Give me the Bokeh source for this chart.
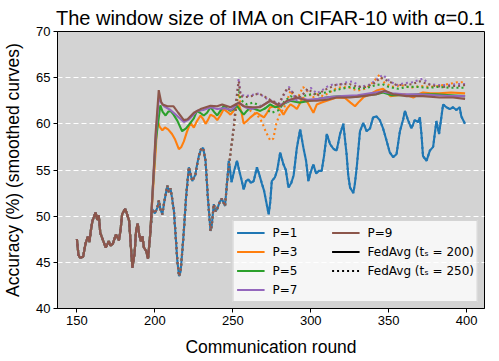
from bokeh.plotting import figure
from bokeh.models import Range1d, Legend, LegendItem, FixedTicker
from bokeh.embed import file_html
from bokeh.resources import INLINE

# ---------------- data ----------------
fedavg_round = [150, 151, 152, 154, 155.5, 157, 158, 159, 160, 162, 163, 164, 165, 166.5, 168.5,
                170.5, 171.5, 173, 175, 177, 178, 179, 181, 182, 183.5, 184.5, 185.6, 187, 188, 189,
                190, 191, 192, 193, 194.5, 195.6, 197, 198.4, 200, 201.6, 202.6, 203.5, 204.8, 206,
                208, 209, 210, 211, 212.2, 213.5, 214.4, 215.5, 216.5, 217.5, 218.6, 220, 221.8, 223,
                224, 226, 227, 228.2, 229.5, 231, 232.5, 234, 235.7, 236.5, 237.8, 239, 240, 241.5,
                243, 244, 245, 246.4, 247.4, 248.2, 249.2, 251, 252.7, 254, 255.5, 257, 258.5, 260,
                261.5, 263.4, 265.5, 267, 268.7, 270, 271.5, 273, 274, 275, 277, 278.5, 280.4, 282.5,
                284, 285.7, 287.5, 289, 291, 293.2, 295.3, 297, 298.5, 300, 301.7, 303.5, 305, 307,
                308.5, 310.3, 312.4, 314.5, 316.6, 318.8, 320.9, 323, 324, 325.2, 327.3, 328.3, 329.5,
                331.6, 333.7, 335.8, 338, 340, 342.2, 344.3, 346.4, 348.6, 350.7, 352.8, 355, 357.2,
                359.3, 360.4, 362.4, 364.6, 366.7, 368.8, 370, 371, 372, 374.3, 376.4, 378.5, 380.6,
                382.3, 384.9, 387, 389.2, 391.3, 393.4, 395.5, 396.6, 398.7, 399]
fedavg_acc = [47.5, 45.8, 45.5, 45.6, 47.0, 47.8, 47.2, 48.5, 49.5, 50.4, 49.6, 50.1, 48.2, 47.5, 46.6,
              47.3, 46.8, 47.0, 48.0, 47.4, 48.5, 50.2, 50.8, 50.3, 49.5, 47.0, 44.4, 46.0, 48.5, 49.2,
              48.0, 47.3, 47.8, 46.6, 46.2, 45.4, 48.0, 50.75, 50.3, 50.9, 51.7, 50.8, 50.2, 51.5,
              53.3, 52.6, 53.0, 52.0, 50.6, 47.5, 45.2, 43.5, 44.0, 46.0, 48.4, 52.0, 55.3, 54.5,
              53.8, 54.5, 55.5, 56.5, 57.2, 57.4, 56.0, 52.0, 48.4, 49.0, 51.3, 50.5, 50.8, 51.5,
              51.9, 51.5, 51.1, 53.8, 56.0, 55.0, 53.7, 55.0, 56.0, 55.0, 54.0, 52.9, 53.8, 54.0,
              53.6, 53.8, 55.3, 54.5, 53.5, 52.8, 51.5, 50.2, 51.5, 53.8, 54.2, 55.0, 56.9, 55.6,
              55.0, 53.1, 53.6, 54.4, 57.3, 59.4, 57.4, 56.0, 53.8, 54.8, 55.6, 54.6, 54.9, 54.9,
              56.5, 58.9, 57.8, 57.3, 57.1, 58.9, 60.0, 56.7, 54.5, 53.1, 52.5, 53.5, 55.3,
              59.2, 60.1, 59.2, 59.5, 60.7, 60.8, 60.4, 59.5, 58.2, 56.9, 56.4, 56.7, 59.2,
              60.5, 61.4, 60.4, 59.5, 60.4, 60.2, 60.7, 58.9, 56.5, 56.0, 57.1, 57.5, 60.3,
              58.9, 62.1, 61.8, 61.6, 61.8, 61.5, 61.8, 60.8, 60.1, 60.0]

# IMA started at round 200 (solid lines)
ima200_round_p3 = [198.5, 200.5, 201.6, 203, 204.8, 206.5, 208.5, 211, 213, 215.4, 217, 218.6, 220.5,
                   222.8, 225, 227, 229.3, 231, 232.5, 234, 235.7, 238, 240, 242, 244.2, 246.5, 248.5,
                   251, 253.8, 255.5, 257, 259, 261.3, 263.5, 265.5, 268, 270, 272, 274, 278, 280.5,
                   282.5, 285, 287, 289, 291.1, 293, 295, 298, 301.7, 303.9, 307, 310.3, 316.6, 322,
                   325.5, 328.4, 331, 334, 338, 342.2, 346.4, 349, 351, 356, 360, 365.8, 369, 372, 377,
                   382, 390, 399]
ima200_acc_p3 = [52.0, 57.0, 60.4, 59.7, 59.3, 59.6, 59.4, 58.9, 58.3, 57.25, 57.5, 58.1, 59.1,
                 60.1, 59.6, 60.3, 60.9, 60.5, 60.0, 60.4, 61.0, 60.8, 60.4, 60.9, 61.6, 61.3, 61.0,
                 61.5, 62.1, 61.3, 60.0, 60.3, 60.7, 61.0, 61.2, 60.9, 60.7, 61.2, 61.8, 61.9, 61.5,
                 61.0, 61.7, 62.1, 61.9, 61.6, 62.2, 62.85, 62.3, 61.2, 62.1, 62.3, 62.5, 62.85, 62.8,
                 62.3, 61.9, 62.4, 62.9, 63.2, 63.6, 63.8, 63.4, 63.0, 63.1, 63.2, 62.85, 63.2, 63.4, 63.3,
                 63.3, 63.4, 63.3]
ima200_round_p5 = [198.5, 200.5, 203.5, 205, 206.9, 208.5, 210, 212, 214.4, 217.5, 220, 222.8, 225,
                   227, 229, 231.4, 233.5, 235.7, 238, 240, 242, 244.2, 246, 248.5, 250.5, 252.7, 255,
                   257, 259, 261.3, 264, 267.6, 271, 274, 277, 280.4, 283, 286.8, 290, 293.2, 296,
                   299.6, 305, 312, 320, 328, 336, 342, 346.4, 352, 360, 370, 380, 390, 399]
ima200_acc_p5 = [52.5, 58.0, 62.0, 61.3, 60.9, 61.3, 61.4, 61.0, 60.35, 59.2, 59.5, 60.1, 60.6,
                 61.4, 61.2, 60.9, 61.2, 61.8, 61.3, 60.9, 61.4, 61.95, 61.7, 61.4, 61.6, 61.95, 61.4,
                 61.0, 61.4, 61.8, 61.6, 61.4, 61.7, 62.1, 61.8, 61.9, 62.2, 62.5, 62.4, 62.3, 62.4,
                 62.5, 62.7, 62.9, 63.0, 62.9, 63.1, 63.2, 63.4, 63.1, 63.1, 63.2, 63.2, 63.1, 63.0]
ima200_round_p7 = [198.5, 200.5, 202.5, 204, 206, 210, 214, 218.6, 222, 227, 231, 236, 240, 245, 249,
                   254, 258, 262, 268, 274, 280, 286, 292, 298, 305, 312, 320, 330, 338, 346, 352,
                   360, 370, 380, 390, 399]
ima200_acc_p7 = [52.5, 58.5, 62.8, 62.3, 61.9, 61.5, 60.9, 60.2, 60.5, 61.4, 61.5, 61.8, 61.6, 61.7,
                 61.5, 62.3, 61.8, 61.6, 61.9, 62.5, 62.0, 62.5, 62.8, 62.6, 62.7, 62.9, 63.0, 63.1,
                 63.3, 63.5, 63.3, 63.2, 63.2, 63.1, 63.0, 63.0]
ima200_round_p9 = [198.5, 200.5, 202.5, 204, 205, 208, 212, 215, 218.6, 221, 225, 229.3, 235.7, 240,
                   243.2, 248.5, 253.8, 257, 261.3, 267.6, 274, 280.4, 284.7, 291.1, 297.5, 303.9,
                   310.3, 316.6, 325.2, 333.7, 342.2, 347.6, 352.9, 361.5, 372, 382.7, 391.3, 399]
ima200_acc_p9 = [52.5, 59.0, 63.65, 62.4, 62.1, 61.9, 61.9, 61.2, 60.4, 60.5, 61.2, 61.6, 61.95,
                 61.9, 62.1, 61.8, 62.3, 61.9, 61.8, 61.8, 62.5, 61.9, 62.5, 62.85, 62.5, 62.5, 62.6,
                 62.85, 62.85, 63.0, 63.2, 63.6, 63.2, 63.0, 63.0, 62.85, 62.85, 62.7]

# IMA started at round 250 (dotted lines)
ima250_round_p3 = [248.5, 250.6, 252.2, 253.8, 255, 259, 262, 265.5, 268.7, 271, 274, 276, 278, 280,
                   282.5, 285, 287, 289, 292, 295, 298, 301, 304, 308, 312, 316, 320, 325, 330, 335,
                   340, 344, 347, 352, 358, 364, 370, 376, 382, 388, 394, 399]
ima250_acc_p3 = [56.8, 59.4, 61.8, 63.3, 62.1, 61.8, 61.3, 61.0, 60.2, 59.2, 58.2, 58.4, 60.1, 61.0,
                 61.6, 62.6, 63.6, 63.0, 62.9, 64.0, 63.5, 62.8, 63.2, 63.0, 63.4, 63.8, 64.0, 63.9,
                 63.6, 63.8, 64.5, 65.3, 64.5, 64.0, 64.2, 63.9, 64.1, 64.0, 64.1, 64.3, 64.5, 64.5]
ima250_round_p5 = [248.5, 250.6, 252.2, 253.8, 255, 259, 263, 267, 271, 275, 279.6, 283, 287, 291,
                   295, 300, 305, 310, 315, 320, 325, 330, 336, 342, 346, 350, 356, 362, 368, 375,
                   382, 390, 399]
ima250_acc_p5 = [56.8, 59.5, 62.2, 63.8, 62.6, 62.1, 62.3, 62.0, 61.6, 61.2, 61.5, 62.4, 63.0, 62.7,
                 63.0, 63.2, 63.3, 63.4, 63.6, 63.8, 64.0, 63.8, 63.9, 64.2, 64.3, 64.0, 63.8, 64.0,
                 64.0, 63.9, 64.0, 63.9, 63.9]
ima250_round_p7 = [248.5, 250.6, 252.2, 253.8, 255, 258, 262, 266.7, 271, 275, 279.6, 283, 286,
                   288.5, 291, 294, 297.5, 300, 303.8, 307, 310.3, 314.5, 318, 323, 327, 331.6, 337,
                   341, 344.3, 346.4, 350, 355, 360, 365, 372, 376, 382, 388, 394, 399]
ima250_acc_p7 = [56.8, 59.6, 62.6, 64.9, 63.2, 63.0, 63.1, 63.3, 62.8, 62.5, 62.1, 63.2, 64.0,
                 63.3, 62.5, 63.0, 63.6, 63.9, 63.3, 63.6, 64.0, 64.3, 64.2, 64.5, 64.6, 64.0, 64.2,
                 64.6, 65.1, 65.3, 64.7, 64.2, 64.4, 64.5, 64.9, 64.3, 64.2, 64.2, 64.3, 64.3]
ima250_round_p9 = [248.5, 250.6, 252.2, 253.8, 255, 258, 262, 266.7, 271, 275, 279.6, 282, 285, 288,
                   291, 295, 298, 301, 304, 308, 312, 316, 320, 325, 330, 335, 340, 345, 350, 355,
                   360, 365, 370, 375, 380, 385, 390, 395, 399]
ima250_acc_p9 = [56.8, 59.6, 62.5, 64.6, 63.0, 62.9, 63.0, 63.3, 62.9, 62.5, 62.2, 63.0, 63.9, 63.5,
                 62.8, 63.2, 63.8, 63.4, 63.0, 63.6, 63.9, 64.2, 64.3, 64.3, 64.0, 64.0, 64.3, 65.0,
                 64.6, 64.2, 64.2, 64.3, 64.6, 64.3, 64.1, 64.0, 64.1, 64.1, 64.2]

window_sizes = ["P=1", "P=3", "P=5", "P=7", "P=9"]
colors = ["#1f77b4", "#ff7f0e", "#2ca02c", "#9467bd", "#8c564b"]
x_ticks = [150, 200, 250, 300, 350, 400]
y_ticks = [40, 45, 50, 55, 60, 65, 70]

# ---------------- figure ----------------
LAB_FONT = "Liberation Sans"
p = figure(width=499, height=361, output_backend="svg", toolbar_location=None,
           x_range=Range1d(137.55, 411.45), y_range=Range1d(40, 70),
           min_border_left=56, min_border_right=15, min_border_top=31, min_border_bottom=53)
p.background_fill_color = "#d3d3d3"
p.border_fill_color = "white"
p.outline_line_color = "black"
p.outline_line_width = 1

p.title.text = "The window size of IMA on CIFAR-10 with \u03b1=0.1"
p.title.text_font = LAB_FONT
p.title.text_font_size = "20px"
p.title.text_font_style = "normal"
p.title.text_color = "black"
p.title.align = "center"
p.title.standoff = 5

p.xgrid.visible = False
p.ygrid.grid_line_color = "white"
p.ygrid.grid_line_dash = "5 3"
p.ygrid.grid_line_width = 1.2
p.ygrid.ticker = FixedTicker(ticks=y_ticks)

for ax, ticks in ((p.xaxis[0], x_ticks), (p.yaxis[0], y_ticks)):
    ax.ticker = FixedTicker(ticks=ticks)
    ax.major_label_text_font = LAB_FONT
    ax.major_label_text_font_size = "13px"
    ax.major_label_text_color = "black"
    ax.axis_label_text_font = LAB_FONT
    ax.axis_label_text_font_size = "17.5px"
    ax.axis_label_text_font_style = "normal"
    ax.axis_label_text_color = "black"
    ax.axis_line_color = "black"
    ax.major_tick_line_color = "black"
    ax.major_tick_out = 4
    ax.major_tick_in = 0
    ax.minor_tick_line_color = None
    ax.major_label_standoff = 3
p.xaxis.axis_label = "Communication round"
p.yaxis.axis_label = "Accuracy (%) (smoothed curves)"
p.xaxis.axis_label_standoff = 9
p.yaxis.axis_label_standoff = 10

def join(cut, xb, yb):
    xs = [x for x in fedavg_round if x < cut] + xb
    ys = [y for x, y in zip(fedavg_round, fedavg_acc) if x < cut] + yb
    return xs, ys

ima200 = [None, (ima200_round_p3, ima200_acc_p3), (ima200_round_p5, ima200_acc_p5),
          (ima200_round_p7, ima200_acc_p7), (ima200_round_p9, ima200_acc_p9)]
ima250 = [None, (ima250_round_p3, ima250_acc_p3), (ima250_round_p5, ima250_acc_p5),
          (ima250_round_p7, ima250_acc_p7), (ima250_round_p9, ima250_acc_p9)]

items = []
for i, (name, col) in enumerate(zip(window_sizes, colors)):
    if ima200[i] is None:
        sx, sy = fedavg_round, fedavg_acc
        dx, dy = fedavg_round, fedavg_acc
    else:
        sx, sy = join(198, *ima200[i])
        dx, dy = join(247, *ima250[i])
    r_solid = p.line(sx, sy, line_color=col, line_width=2.1)
    p.line(dx, dy, line_color=col, line_width=2.1, line_dash="2 3")
    items.append(LegendItem(label=name, renderers=[r_solid]))

# legend-only style keys (lines placed outside the visible x range)
key_x = [0, 1]
key_y = [50, 50]
r_fa200 = p.line(key_x, key_y, line_color="black", line_width=2.1)
r_fa250 = p.line(key_x, key_y, line_color="black", line_width=2.1, line_dash="2 3")
items.append(LegendItem(label="FedAvg (t\u209b = 200)", renderers=[r_fa200]))
items.append(LegendItem(label="FedAvg (t\u209b = 250)", renderers=[r_fa250]))

legend = Legend(items=items, location="bottom_right", nrows=4)
legend.label_text_font = "DejaVu Sans"
legend.label_text_font_size = "12px"
legend.label_text_color = "black"
legend.glyph_width = 28
legend.glyph_height = 17
legend.label_height = 17
legend.label_width = 57
legend.label_standoff = 8
legend.spacing = 2
legend.padding = 3
legend.margin = 6
legend.background_fill_color = "white"
legend.background_fill_alpha = 0.8
legend.border_line_color = "#cccccc"
legend.border_line_alpha = 0.8
p.add_layout(legend)

open("out.html", "w").write(file_html(p, INLINE))
